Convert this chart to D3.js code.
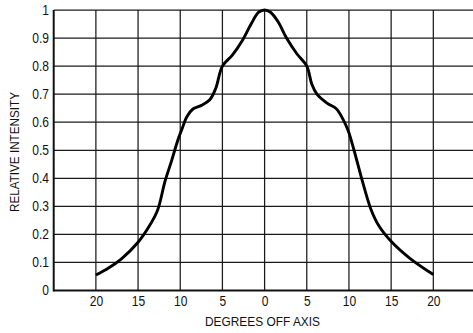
<!DOCTYPE html>
<html>
<head>
<meta charset="utf-8">
<script src="https://cdn.jsdelivr.net/npm/d3@7"></script>
<style>
  html, body { margin: 0; padding: 0; background: #fff; }
  svg { display: block; }
  text { font-family: "Liberation Sans Narrow", "Arial Narrow", "Liberation Sans", Arial, sans-serif; fill: #111; }
</style>
</head>
<body>
<svg id="chart" width="473" height="333"></svg>
<script>
// ---- data ----
const degrees = [-20, -18.5, -17, -15, -13.7, -12.7, -11.8, -11.0, -10.3, -9.8, -9.2, -8.5, -7.5, -6.5, -5.8, -5.0, -3.8, -2.6, -1.6, -0.7, 0,
                 0.7, 1.6, 2.6, 3.8, 5.0, 5.6, 6.2, 7.4, 8.5, 9.3, 9.9, 10.6, 11.5, 12.6, 13.6, 15.1, 17.3, 20];
const intensity = [0.055, 0.08, 0.112, 0.172, 0.228, 0.285, 0.39, 0.465, 0.535, 0.575, 0.62, 0.647, 0.66, 0.68, 0.72, 0.80, 0.84, 0.893, 0.95, 0.992, 1.0,
                   0.992, 0.958, 0.90, 0.845, 0.80, 0.735, 0.70, 0.668, 0.648, 0.61, 0.57, 0.5, 0.4, 0.29, 0.228, 0.172, 0.113, 0.057];
const xTickValues = [-20, -15, -10, -5, 0, 5, 10, 15, 20];
const xTickLabels = ["20", "15", "10", "5", "0", "5", "10", "15", "20"];
const xGridValues = [-20, -15, -10, -5, 0, 5, 10, 15, 20, 25];
const yTickValues = [0, 0.1, 0.2, 0.3, 0.4, 0.5, 0.6, 0.7, 0.8, 0.9, 1];
const yTickLabels = ["0", "0.1", "0.2", "0.3", "0.4", "0.5", "0.6", "0.7", "0.8", "0.9", "1"];
const xTitle = "DEGREES OFF AXIS";
const yTitle = "RELATIVE INTENSITY";

// ---- scales ----
const svg = d3.select("#chart");
const x = d3.scaleLinear().domain([-25, 25]).range([53.7, 475.5]);
const y = d3.scaleLinear().domain([0, 1]).range([290.5, 10]);

// ---- grid ----
const grid = svg.append("g");
grid.selectAll("line.h").data(yTickValues.filter(v => v > 0)).join("line")
  .attr("x1", x(-25)).attr("x2", x(25))
  .attr("y1", d => y(d)).attr("y2", d => y(d))
  .attr("stroke", "#1a1a1a").attr("stroke-width", 1.25);
grid.selectAll("line.v").data(xGridValues).join("line")
  .attr("x1", d => x(d)).attr("x2", d => x(d))
  .attr("y1", y(0)).attr("y2", y(1))
  .attr("stroke", "#1a1a1a").attr("stroke-width", 1.25);

// ---- axes ----
const condensed = 0.86;
const xAxis = svg.append("g").attr("transform", `translate(0,${y(0)})`)
  .call(d3.axisBottom(x).tickValues(xTickValues).tickFormat((d, i) => xTickLabels[i]).tickSize(0).tickPadding(6));
xAxis.select(".domain").remove();
xAxis.selectAll("text").attr("font-size", 14).attr("transform", `scale(${condensed},1)`);

const yAxis = svg.append("g").attr("transform", `translate(${x(-25)},0)`)
  .call(d3.axisLeft(y).tickValues(yTickValues).tickFormat((d, i) => yTickLabels[i]).tickSize(0).tickPadding(5.5));
yAxis.select(".domain").remove();
yAxis.selectAll("text").attr("font-size", 14).attr("transform", `scale(${condensed},1)`);

svg.selectAll("g").attr("font-family", null);

// axis lines
svg.append("line").attr("x1", x(-25)).attr("x2", x(25)).attr("y1", y(0)).attr("y2", y(0))
  .attr("stroke", "#111").attr("stroke-width", 2);
svg.append("line").attr("x1", x(-25)).attr("x2", x(-25)).attr("y1", y(0) + 1).attr("y2", y(1))
  .attr("stroke", "#111").attr("stroke-width", 2);

// ---- curve ----
const pts = degrees.map((d, i) => [d, intensity[i]]);
svg.append("path").datum(pts)
  .attr("fill", "none").attr("stroke", "#000").attr("stroke-width", 2.9)
  .attr("stroke-linejoin", "round").attr("stroke-linecap", "butt")
  .attr("d", d3.line().x(d => x(d[0])).y(d => y(d[1])).curve(d3.curveCatmullRom.alpha(0.5)));

// ---- titles ----
svg.append("text").attr("x", 262.5).attr("y", 325.5)
  .attr("text-anchor", "middle").attr("font-size", 13)
  .attr("textLength", 115).attr("lengthAdjust", "spacingAndGlyphs")
  .text(xTitle);
svg.append("text").attr("transform", "translate(18.5,152) rotate(-90)")
  .attr("text-anchor", "middle").attr("font-size", 13)
  .attr("textLength", 120).attr("lengthAdjust", "spacingAndGlyphs")
  .text(yTitle);
</script>
</body>
</html>
